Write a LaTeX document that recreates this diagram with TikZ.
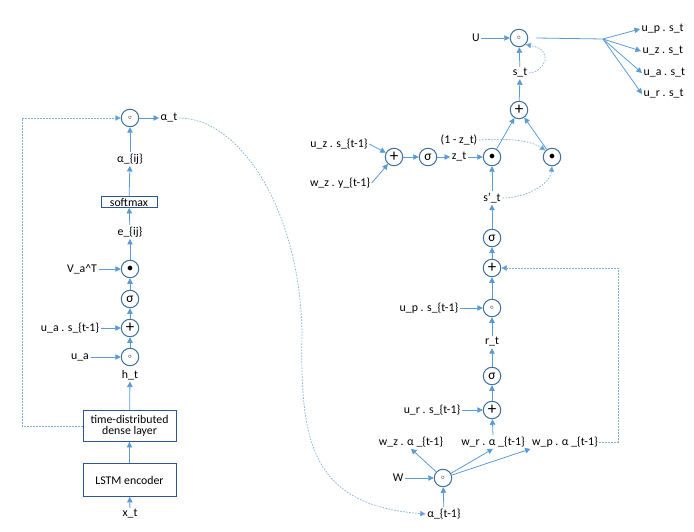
\documentclass[tikz,border=0pt]{standalone}
\usepackage{fontspec}
\setmainfont{Carlito}
\usetikzlibrary{arrows.meta}
\definecolor{linec}{HTML}{5B9BD5}
\definecolor{opc}{HTML}{41719C}
\definecolor{boxc}{HTML}{2F5597}
\definecolor{dashc}{HTML}{7FB0DF}
\newcommand{\opplus}{{\fontsize{17}{17}\selectfont +}}
\newcommand{\opsig}{{\fontsize{13.5}{14}\selectfont σ}}
\newcommand{\opcirc}{{\scriptsize$\circ$}}
\newcommand{\opdot}{{\large$\bullet$}}
\begin{document}
\begin{tikzpicture}[x=1pt,y=-1pt,
  every node/.style={font=\fontsize{11.8}{13}\selectfont},
  op/.style={circle,draw=opc,line width=1pt,minimum size=17.5pt,inner sep=0pt},
  lbl/.style={inner sep=1.5pt},
  boxn/.style={draw=boxc,line width=0.9pt,inner sep=1pt,align=center},
  arr/.style={draw=linec,line width=0.8pt,-{Triangle[length=5.5pt,width=5.5pt]}},
  ln/.style={draw=linec,line width=0.8pt},
  dsh/.style={draw=dashc,line width=0.7pt,dash pattern=on 1.6pt off 1.4pt,-{Triangle[length=5.5pt,width=5.5pt,fill=linec]}},
  dshn/.style={draw=dashc,line width=0.7pt,dash pattern=on 1.6pt off 1.4pt}]
\useasboundingbox (0,0) rectangle (694,532);
% ---------- left column ----------
\node[op] (c1) at (130,118) {\opcirc};
\node[lbl] (at) at (169,118) {α\_t};
\node[lbl] (aij) at (130,159) {α\_\{ij\}};
\node[boxn,minimum width=56pt,minimum height=11pt,inner sep=0pt] (sm) at (129,202) {softmax};
\node[lbl] (eij) at (130,232) {e\_\{ij\}};
\node[op] (c2) at (130,269) {\opdot};
\node[lbl] (va) at (82,269) {V\_a\textasciicircum T};
\node[op] (c3) at (130,299) {\opsig};
\node[op] (c4) at (130,328) {\opplus};
\node[lbl] (uas) at (70,328) {u\_a . s\_\{t-1\}};
\node[op] (c5) at (130,357) {\opcirc};
\node[lbl] (ua) at (80,357) {u\_a};
\node[lbl] (ht) at (130,375) {h\_t};
\node[boxn,minimum width=93pt,minimum height=31pt] (td) at (129.5,426) {time-distributed\\[-2pt]dense layer};
\node[boxn,minimum width=93pt,minimum height=33pt] (lstm) at (129.5,480) {LSTM encoder};
\node[lbl] (xt) at (130,514) {x\_t};
\coordinate (dl) at (22,426);
\draw[arr] (xt) -- (lstm);
\draw[arr] (lstm) -- (td);
\draw[arr] (td) -- (ht);
\draw[arr] (c5) -- (c4);
\draw[arr] (c4) -- (c3);
\draw[arr] (c3) -- (c2);
\draw[arr] (c2) -- (eij);
\draw[arr] (eij) -- (sm);
\draw[arr] (sm) -- (aij);
\draw[arr] (aij) -- (c1);
\draw[arr] (c1) -- (at);
\draw[arr] (va) -- (c2);
\draw[arr] (uas) -- (c4);
\draw[arr] (ua) -- (c5);
\draw[dsh] (td.west) -- (dl) |- (c1.west);
% ---------- right part ----------
\node[lbl] (U) at (476,38) {U};
\node[op] (o1) at (519,38) {\opcirc};
\coordinate (fan) at (603,39);
\node[lbl,anchor=west] (ups) at (640,29) {u\_p . s\_t};
\node[lbl,anchor=west] (uzs) at (641,51) {u\_z . s\_t};
\node[lbl,anchor=west] (uas2) at (642,73) {u\_a . s\_t};
\node[lbl,anchor=west] (urs) at (642,94) {u\_r . s\_t};
\node[lbl] (st) at (520,73) {s\_t};
\node[op] (p1) at (519,110) {\opplus};
\node[lbl] (omz) at (459,140) {(1 - z\_t)};
\node[op] (d1) at (492,157) {\opdot};
\node[op] (d2) at (552,157) {\opdot};
\node[lbl] (zt) at (459,157) {z\_t};
\node[op] (sg1) at (428,157) {\opsig};
\node[op] (p2) at (394,157) {\opplus};
\node[lbl] (uzs1) at (339,144) {u\_z . s\_\{t-1\}};
\node[lbl] (wzy) at (340,183) {w\_z . y\_\{t-1\}};
\node[lbl] (sp) at (492,198) {s’\_t};
\node[op] (sg2) at (492,238) {\opsig};
\node[op] (p3) at (492,268) {\opplus};
\node[op] (o2) at (492,308) {\opcirc};
\node[lbl] (ups1) at (429,308) {u\_p . s\_\{t-1\}};
\node[lbl] (rt) at (492,342) {r\_t};
\node[op] (sg3) at (492,376) {\opsig};
\node[op] (p4) at (492,410) {\opplus};
\node[lbl] (urs1) at (432,410) {u\_r . s\_\{t-1\}};
\node[lbl] (wza) at (411,442) {w\_z . α \_\{t-1\}};
\node[lbl] (wra) at (493,442) {w\_r . α \_\{t-1\}};
\node[lbl] (wpa) at (565,442) {w\_p . α \_\{t-1\}};
\node[lbl] (W) at (398,478) {W};
\node[op] (o3) at (443,478) {\opcirc};
\node[lbl] (atm) at (444,514) {α\_\{t-1\}};
\coordinate (dr) at (618,442);
% connectors
\draw[arr] (U) -- (o1);
\path (o1.east) ++(8,0) coordinate (o1r);
\draw[ln] (o1r) -- (fan);
\draw[arr] (fan) -- (ups.west);
\draw[arr] (fan) -- (uzs.west);
\draw[arr] (fan) -- (uas2.west);
\draw[arr] (fan) -- (urs.west);
\draw[arr] (st) -- (o1);
\draw[arr] (p1) -- (st);
\draw[arr] (d1) -- (p1);
\draw[arr] (d2) -- (p1);
\draw[arr] (sp) -- (d1);
\draw[arr] (sg2) -- (sp);
\draw[arr] (p3) -- (sg2);
\draw[arr] (o2) -- (p3);
\draw[arr] (ups1) -- (o2);
\draw[arr] (rt) -- (o2);
\draw[arr] (sg3) -- (rt);
\draw[arr] (p4) -- (sg3);
\draw[arr] (urs1) -- (p4);
\draw[arr] (wra.north) -- (p4);
\draw[arr] (o3) -- (wza.south);
\draw[arr] (o3) -- (wra.south);
\draw[arr] (o3) -- (wpa.south west);
\draw[arr] (atm) -- (o3);
\draw[arr] (W) -- (o3);
\draw[arr] (p2) -- (sg1);
\draw[arr] (sg1) -- (zt);
\draw[arr] (zt) -- (d1);
\draw[arr] (uzs1.east) -- (p2);
\draw[arr] (wzy.east) -- (p2);
% dashed
\draw[dsh] (st.east) .. controls (545,72) and (555,50) .. (o1.south east);
\draw[dsh] (omz.east) .. controls (505,138) and (530,140) .. (d2.north west);
\draw[dsh] (sp.east) .. controls (525,198) and (550,185) .. (d2.south);
\draw[dsh] (wpa.east) -- (dr) |- (p3.east);
\draw[dsh] (at.east) .. controls (240,118) and (300,210) .. (302,333)
  .. controls (300,440) and (310,505) .. (atm.west);
\end{tikzpicture}
\end{document}
